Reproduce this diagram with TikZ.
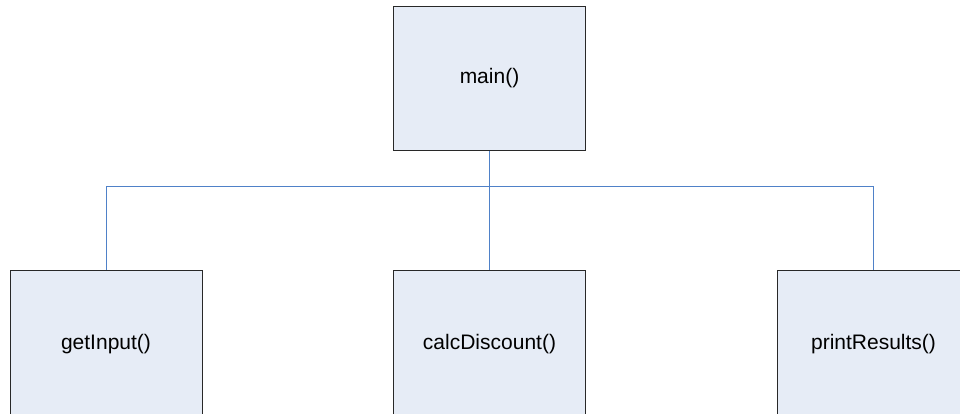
\documentclass[tikz,border=0pt]{standalone}
\usepackage{fontspec}
\setmainfont{Liberation Sans}
\definecolor{boxfill}{RGB}{230,236,246}
\definecolor{boxline}{RGB}{40,40,40}
\definecolor{wire}{RGB}{79,129,200}
\begin{document}
\begin{tikzpicture}[x=1pt,y=-1pt,
  func/.style={draw=boxline, fill=boxfill, line width=0.9pt,
    minimum width=192pt, minimum height=143.5pt, inner sep=0pt,
    font=\fontsize{21}{25}\selectfont},
  callee/.style={func, minimum height=148pt},
  link/.style={draw=wire, line width=0.9pt}]
  \useasboundingbox (0,0) rectangle (960,413);
  \clip (0,0) rectangle (960,413);
  \fill[white] (0,0) rectangle (960,413);
  % caller
  \node[func] (main) at (489.5,78.3) {main()};
  % callees, running past the lower edge
  \node[callee] (left)  at (106,344) {getInput()};
  \node[callee] (mid)   at (489.5,344) {calcDiscount()};
  \node[callee] (right) at (873.5,344) {printResults()};
  % call tree wiring
  \coordinate (bus) at (489.5,186.5);
  \draw[link] (main.south) -- (mid.north);
  \draw[link] (left.north) -- (left.north |- bus) -- (right.north |- bus) -- (right.north);
\end{tikzpicture}
\end{document}
